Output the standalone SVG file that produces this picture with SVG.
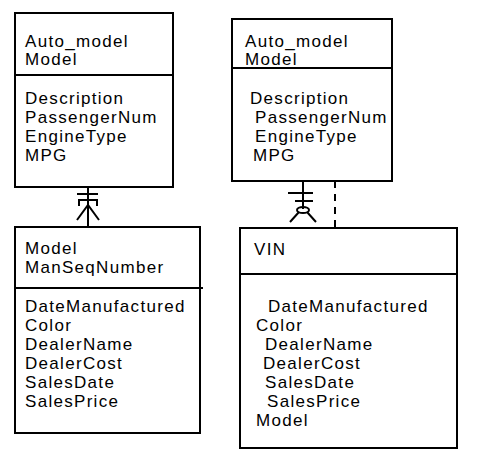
<svg xmlns="http://www.w3.org/2000/svg" width="478" height="472" viewBox="0 0 478 472">
<style>
.box{fill:#fff;stroke:#000;stroke-width:2}
.ln{stroke:#000;stroke-width:2;fill:none}
text{font-family:"Liberation Sans",Arial,sans-serif;font-size:17px;letter-spacing:1.3px;fill:#000}
</style>
<rect width="478" height="472" fill="#fff"/>
<g id="connectors">
<line class="ln" x1="88" y1="187" x2="88" y2="227"/>
<line class="ln" x1="77" y1="194" x2="98" y2="194"/>
<path class="ln" d="M79 206 V200 H97 V206"/>
<path class="ln" d="M77 220 L88 205 L99 220"/>
<line class="ln" x1="303" y1="181" x2="303" y2="209"/>
<line class="ln" x1="288" y1="193" x2="313" y2="193"/>
<line class="ln" x1="295" y1="201" x2="313" y2="201"/>
<ellipse class="ln" cx="303" cy="210" rx="6" ry="3"/>
<path class="ln" d="M299 212 L290 222 M307 212 L316 222"/>
<line class="ln" x1="335" y1="181" x2="335" y2="228" stroke-dasharray="7,6"/>
</g>
<g id="auto_model_1">
<rect class="box" x="15" y="13" width="158" height="174"/>
<line class="ln" x1="15" y1="75" x2="173" y2="75"/>
<text x="25" y="47">Auto_model</text>
<text x="25" y="65">Model</text>
<text x="25" y="104">Description</text>
<text x="25" y="123">PassengerNum</text>
<text x="25" y="142">EngineType</text>
<text x="25" y="161">MPG</text>
</g>
<g id="auto_model_2">
<rect class="box" x="232" y="19" width="160" height="162"/>
<line class="ln" x1="232" y1="68" x2="392" y2="68"/>
<text x="245" y="47">Auto_model</text>
<text x="245" y="65">Model</text>
<text x="250" y="104">Description</text>
<text x="255" y="123">PassengerNum</text>
<text x="255" y="142">EngineType</text>
<text x="253" y="161">MPG</text>
</g>
<g id="auto_1">
<rect class="box" x="15" y="227" width="185" height="206"/>
<line class="ln" x1="15" y1="288" x2="203" y2="288"/>
<text x="25" y="254">Model</text>
<text x="25" y="273">ManSeqNumber</text>
<text x="25" y="312">DateManufactured</text>
<text x="25" y="331">Color</text>
<text x="25" y="350">DealerName</text>
<text x="25" y="369">DealerCost</text>
<text x="25" y="388">SalesDate</text>
<text x="25" y="407">SalesPrice</text>
</g>
<g id="auto_2">
<rect class="box" x="240" y="228" width="217" height="220"/>
<line class="ln" x1="240" y1="274" x2="457" y2="274"/>
<text x="254" y="255">VIN</text>
<text x="268" y="312">DateManufactured</text>
<text x="256" y="331">Color</text>
<text x="265" y="350">DealerName</text>
<text x="263" y="369">DealerCost</text>
<text x="265" y="388">SalesDate</text>
<text x="267" y="407">SalesPrice</text>
<text x="256" y="426">Model</text>
</g>
</svg>
